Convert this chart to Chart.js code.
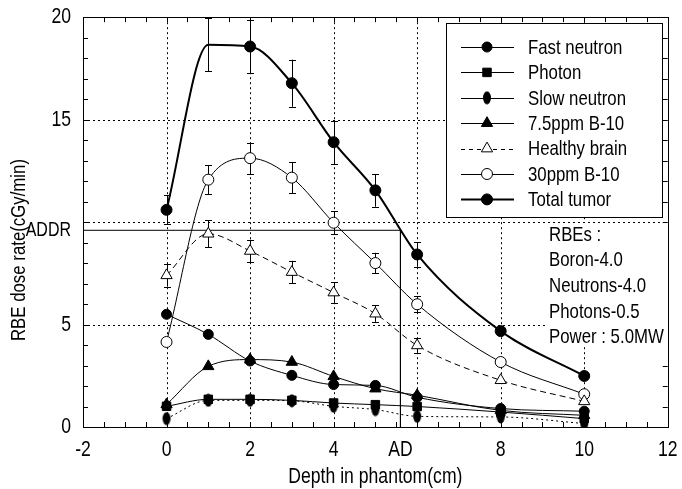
<!DOCTYPE html>
<html><head><meta charset="utf-8">
<script src="https://cdn.jsdelivr.net/npm/chart.js@4.4.0/dist/chart.umd.min.js"></script>
<style>html,body{margin:0;padding:0;background:#fff;} #wrap{position:relative;width:682px;height:489px;}</style>
</head><body><div id="wrap"><canvas id="c"></canvas></div>
<script>
// ---- data ----
const depths = [0, 1, 2, 3, 4, 5, 6, 8, 10];
const fastNeutron   = [5.50, 4.52, 3.22, 2.52, 2.07, 2.03, 1.45, 0.90, 0.77];
const photon        = [1.01, 1.35, 1.35, 1.30, 1.17, 1.09, 1.00, 0.73, 0.41];
const slowNeutron   = [0.41, 1.30, 1.30, 1.28, 1.01, 0.85, 0.52, 0.49, 0.17];
const b10_7_5ppm    = [1.10, 2.96, 3.29, 3.17, 2.47, 1.87, 1.55, 0.81, 0.57];
const healthyBrain  = [7.40, 9.43, 8.59, 7.56, 6.56, 5.53, 3.98, 2.28, 1.25];
const b10_30ppm     = [4.15, 12.07, 13.12, 12.17, 9.97, 8.00, 5.99, 3.17, 1.60];
const totalTumor    = [10.60, 18.65, 18.57, 16.78, 13.90, 11.55, 8.42, 4.68, 2.49];
const totalTumorErr   = [0.70, 1.30, 1.30, 1.15, 1.05, 0.80, 0.60, null, null];
const b10_30ppmErr    = [null, 0.70, 0.75, 0.75, 0.55, 0.50, 0.40, null, null];
const healthyBrainErr = [0.55, 0.65, 0.55, 0.55, 0.50, 0.40, 0.35, null, null];
const AD = 5.6;      // cm
const ADDR = 9.6;    // cGy/min
const xTickValues = [-2, 0, 2, 4, AD, 8, 10, 12];
const xTickLabels = ['-2', '0', '2', '4', 'AD', '8', '10', '12'];
const yTickValues = [0, 5, ADDR, 15, 20];
const yTickLabels = ['0', '5', 'ADDR', '15', '20'];
const xGridValues = [0, 2, 4, 6, 8, 10];
const yGridValues = [5, 10, 15];
const seriesNames = ['Fast neutron', 'Photon', 'Slow neutron', '7.5ppm B-10', 'Healthy brain', '30ppm B-10', 'Total tumor'];
const rbeNotes = ['RBEs :', 'Boron-4.0', 'Neutrons-4.0', 'Photons-0.5', 'Power : 5.0MW'];
const xTitle = 'Depth in phantom(cm)';
const yTitle = 'RBE dose rate(cGy/min)';

const FONT = "'Liberation Sans','Arial',sans-serif";
const CONDENSE = 0.8;
Chart.defaults.font.family = FONT;
Chart.defaults.color = '#000';

// condensed text rendering (reference uses a condensed sans face)
const canvas = document.getElementById('c');
const c2d = canvas.getContext('2d');
const origFill = c2d.fillText.bind(c2d);
c2d.fillText = function(t, x, y, mw){
  this.save(); this.translate(x, y); this.scale(CONDENSE, 1); origFill(t, 0, 0); this.restore();
};

// vertical ellipse marker for slow neutron
const ell = document.createElement('canvas');
ell.width = 10; ell.height = 14;
(function(){const g = ell.getContext('2d'); g.fillStyle = '#000'; g.beginPath(); g.ellipse(5, 7, 4, 6.5, 0, 0, Math.PI*2); g.fill();})();

function pts(arr){ return depths.map((d, i) => ({x: d, y: arr[i]})); }
function ds(label, arr, o){
  return Object.assign({
    label, data: pts(arr), borderColor: '#000', backgroundColor: '#000',
    pointBorderColor: '#000', pointBackgroundColor: '#000', borderWidth: 1,
    pointRadius: 5, pointHoverRadius: 5, pointBorderWidth: 1, cubicInterpolationMode: 'monotone', fill: false
  }, o);
}
const datasets = [
  ds(seriesNames[0], fastNeutron, {pointStyle: 'circle', pointRadius: 5}),
  ds(seriesNames[1], photon, {pointStyle: 'rect', pointRadius: 6}),
  ds(seriesNames[2], slowNeutron, {pointStyle: ell, borderDash: [2, 3]}),
  ds(seriesNames[3], b10_7_5ppm, {pointStyle: 'triangle', pointRadius: 6.5}),
  ds(seriesNames[4], healthyBrain, {pointStyle: 'triangle', pointRadius: 6.5, pointBackgroundColor: '#fff', borderDash: [6, 4], err: healthyBrainErr}),
  ds(seriesNames[5], b10_30ppm, {pointStyle: 'circle', pointRadius: 5.5, pointBackgroundColor: '#fff', err: b10_30ppmErr}),
  ds(seriesNames[6], totalTumor, {pointStyle: 'circle', pointRadius: depths.map((d, i) => i === 1 ? 0 : 5.5), borderWidth: 2, err: totalTumorErr}),
  {label: 'ADDR / AD', data: [{x: -2, y: ADDR}, {x: AD, y: ADDR}, {x: AD, y: 0}], borderColor: '#000', borderWidth: 1, pointRadius: 0, tension: 0, fill: false, legendSkip: true}
];

function hline(ctx, x1, x2, y){ ctx.beginPath(); ctx.moveTo(x1, y); ctx.lineTo(x2, y); ctx.stroke(); }
function vline(ctx, x, y1, y2){ ctx.beginPath(); ctx.moveTo(x, y1); ctx.lineTo(x, y2); ctx.stroke(); }

const deco = {
  id: 'deco',
  beforeDatasetsDraw(chart){
    const {ctx, chartArea: a, scales: {x, y}} = chart;
    ctx.save();
    ctx.strokeStyle = '#000'; ctx.lineWidth = 1;
    // dotted grid
    ctx.setLineDash([2, 3]);
    xGridValues.forEach(v => { const px = Math.round(x.getPixelForValue(v)) + 0.5; vline(ctx, px, a.top, a.bottom); });
    yGridValues.forEach(v => { const py = Math.round(y.getPixelForValue(v)) + 0.5; hline(ctx, a.left, a.right, py); });
    ctx.setLineDash([]);
    // inward ticks
    const tl = 5;
    for (let v = x.min + 0.5; v < x.max; v += 0.5){
      const px = Math.round(x.getPixelForValue(v)) + 0.5;
      vline(ctx, px, a.bottom, a.bottom - tl); vline(ctx, px, a.top, a.top + tl);
    }
    for (let v = y.min + 1; v < y.max; v += 1){
      const py = Math.round(y.getPixelForValue(v)) + 0.5;
      hline(ctx, a.left, a.left + tl, py); hline(ctx, a.right, a.right - tl, py);
    }
    // frame
    ctx.strokeRect(Math.round(a.left) + 0.5, Math.round(a.top) + 0.5, Math.round(a.right - a.left), Math.round(a.bottom - a.top));
    // legend box
    const lx = 446, ly = 23, lw = 216, lh = 194;
    ctx.fillStyle = '#fff'; ctx.fillRect(lx, ly, lw, lh);
    ctx.strokeRect(lx + 0.5, ly + 0.5, lw, lh);
    ctx.font = '21px ' + FONT; ctx.textBaseline = 'middle'; ctx.textAlign = 'left';
    chart.data.datasets.forEach((d, i) => {
      if (d.legendSkip) return;
      const ry = 47 + i * 25.4;
      ctx.lineWidth = d.borderWidth;
      ctx.setLineDash(i === 4 ? [4, 4] : []);
      hline(ctx, 461, 514, Math.round(ry) + 0.5);
      ctx.setLineDash([]);
      ctx.lineWidth = 1;
      ctx.fillStyle = d.pointBackgroundColor; ctx.strokeStyle = '#000';
      const r = Array.isArray(d.pointRadius) ? 5.5 : d.pointRadius;
      Chart.helpers.drawPoint(ctx, {pointStyle: d.pointStyle, radius: r, borderWidth: 1, rotation: 0}, 487, ry);
      ctx.fillStyle = '#000';
      ctx.fillText(d.label, 528, ry + 1);
    });
    // RBE notes box
    ctx.fillStyle = '#fff'; ctx.fillRect(546, 223, 122, 124);
    ctx.fillStyle = '#000';
    rbeNotes.forEach((t, i) => ctx.fillText(t, 549, 235 + i * 25.6));
    // y title
    ctx.save();
    ctx.translate(19, 250); ctx.rotate(-Math.PI / 2);
    ctx.textAlign = 'center'; ctx.textBaseline = 'middle';
    ctx.font = '21px ' + FONT;
    ctx.fillText(yTitle, 0, 0);
    ctx.restore();
    // error bars
    ctx.lineWidth = 1; ctx.strokeStyle = '#000';
    chart.data.datasets.forEach(d => {
      if (!d.err) return;
      d.data.forEach((p, i) => {
        const e = d.err[i]; if (e == null) return;
        const px = Math.round(x.getPixelForValue(p.x)) + 0.5;
        const t = y.getPixelForValue(p.y + e), b = y.getPixelForValue(p.y - e);
        vline(ctx, px, t, b); hline(ctx, px - 3.5, px + 3.5, Math.round(t) + 0.5); hline(ctx, px - 3.5, px + 3.5, Math.round(b) + 0.5);
      });
    });
    ctx.restore();
  }
};

new Chart(canvas, {
  type: 'line',
  data: {datasets},
  plugins: [deco],
  options: {
    responsive: true, maintainAspectRatio: false, animation: false,
    layout: {padding: {top: 17, right: 9, left: 0, bottom: 0}},
    plugins: {legend: {display: false}, tooltip: {enabled: false}},
    scales: {
      x: {
        type: 'linear', min: -2, max: 12,
        grid: {display: false}, border: {display: false},
        afterBuildTicks: s => { s.ticks = xTickValues.map(v => ({value: v})); },
        afterFit: s => { s.height = 62; },
        ticks: {font: {size: 22}, padding: 2, maxRotation: 0, autoSkip: false,
          callback: (v, i) => xTickLabels[i]},
        title: {display: true, text: xTitle, font: {size: 22}, padding: {top: 0, bottom: -1}}
      },
      y: {
        type: 'linear', min: 0, max: 20,
        grid: {display: false}, border: {display: false},
        afterBuildTicks: s => { s.ticks = yTickValues.map(v => ({value: v})); },
        afterFit: s => { s.width = 83; },
        ticks: {padding: 4, autoSkip: false,
          font: c => ({size: (c.tick && c.tick.value === ADDR) ? 20 : 22}),
          callback: (v, i) => yTickLabels[i]}
      }
    }
  }
});
</script></body></html>
